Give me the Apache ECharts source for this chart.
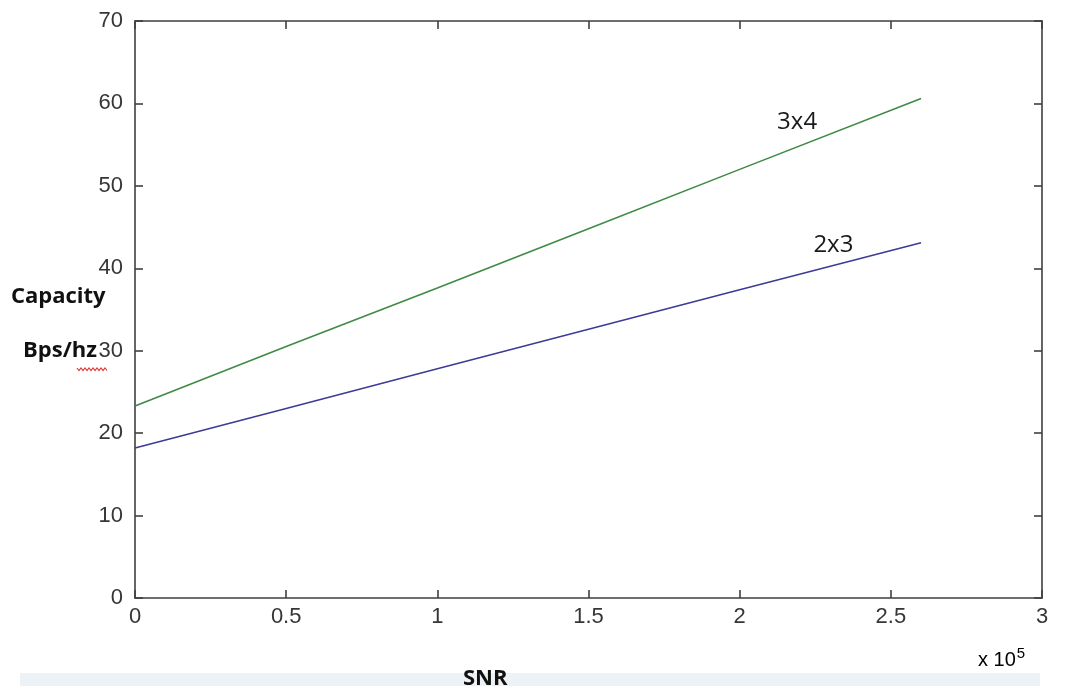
<!DOCTYPE html>
<html>
<head>
<meta charset="utf-8">
<script src="https://cdn.jsdelivr.net/npm/echarts@6/dist/echarts.min.js"></script>
<style>
  html, body { margin: 0; padding: 0; background: #ffffff; }
  #chart { width: 1065px; height: 698px; }
</style>
</head>
<body>
<div id="chart"></div>
<script>
// SNR in units of 10^5
const snr = [0, 0.5, 1, 1.5, 2, 2.6];
// Capacity (Bps/hz) for each antenna configuration
const cap2x3 = [18.2, 23.0, 27.8, 32.6, 37.4, 43.1];
const cap3x4 = [23.3, 30.5, 37.6, 44.8, 52.0, 60.6];
const seriesNames = ['2x3', '3x4'];
// where each series name is written beside its line [snr, capacity]
const nameSpots = [[2.31, 42.8], [2.19, 57.7]];

const axisColor = '#3f3f3f';
const tickFont = { fontFamily: 'Liberation Sans', fontSize: 22, color: '#363636' };

const chart = echarts.init(document.getElementById('chart'), null, { renderer: 'canvas' });

function frameAxis(pos, showLabels, extra) {
  return Object.assign({
    type: 'value',
    position: pos,
    axisLine: { show: true, onZero: false, lineStyle: { color: axisColor, width: 1.6 } },
    axisTick: { show: true, inside: true, length: 8, lineStyle: { color: axisColor, width: 1.6 } },
    axisLabel: Object.assign({ show: showLabels }, tickFont),
    splitLine: { show: false }
  }, extra);
}

function toPairs(xs, ys) { return xs.map((x, i) => [x, ys[i]]); }

function lineSeries(name, values, color) {
  return {
    name: name,
    type: 'line',
    data: toPairs(snr, values),
    showSymbol: false,
    symbol: 'none',
    lineStyle: { color: color, width: 1.6 },
    animation: false
  };
}

chart.setOption({
  animation: false,
  backgroundColor: '#ffffff',
  grid: { left: 135, top: 21, width: 907, height: 577, containLabel: false },
  xAxis: [
    frameAxis('bottom', true, { min: 0, max: 3, interval: 0.5, axisLabel: Object.assign({ show: true, margin: 8 }, tickFont) }),
    frameAxis('top', false, { min: 0, max: 3, interval: 0.5 })
  ],
  yAxis: [
    frameAxis('left', true, { min: 0, max: 70, interval: 10, axisLabel: Object.assign({ show: true, margin: 12 }, tickFont) }),
    frameAxis('right', false, { min: 0, max: 70, interval: 10 })
  ],
  series: [
    lineSeries(seriesNames[0], cap2x3, '#3c3c96'),
    lineSeries(seriesNames[1], cap3x4, '#3f8a45')
  ]
});

// decorations and series names placed through the chart's own scales
const nameTexts = seriesNames.map((name, i) => {
  const p = chart.convertToPixel({ gridIndex: 0 }, nameSpots[i]);
  return {
    type: 'text', x: p[0], y: p[1],
    style: { text: name, font: '24px "Open Sans"', fill: '#1a1a1a', textAlign: 'center', textVerticalAlign: 'middle' }
  };
});

chart.setOption({
  graphic: [
    // faint band across the bottom
    { type: 'rect', shape: { x: 20, y: 673, width: 1020, height: 13 }, style: { fill: '#edf2f7' }, silent: true },
    // axis titles
    { type: 'text', left: 11, top: 286, style: { text: 'Capacity', font: 'bold 22px "Open Sans"', fill: '#111111' } },
    { type: 'text', left: 23, top: 340, style: { text: 'Bps/hz', font: 'bold 22px "Open Sans"', fill: '#111111' } },
    // spell-check squiggle under "hz"
    {
      type: 'polyline',
      shape: { points: [[77,368],[79,370.5],[81,368],[83,370.5],[85,368],[87,370.5],[89,368],[91,370.5],[93,368],[95,370.5],[97,368],[99,370.5],[101,368],[103,370.5],[105,368],[107,370.5]] },
      style: { stroke: '#e03a3a', lineWidth: 1.2, fill: null },
      silent: true
    },
    { type: 'text', left: 463, top: 668, style: { text: 'SNR', font: 'bold 22px "Open Sans"', fill: '#111111' } },
    // exponent of the SNR axis
    {
      type: 'text', left: 978, top: 646,
      style: {
        text: '{b|x 10}{s|5}',
        rich: {
          b: { fontFamily: 'Liberation Sans', fontSize: 20, color: '#444444' },
          s: { fontFamily: 'Liberation Sans', fontSize: 15, color: '#444444', verticalAlign: 'top', padding: [0, 0, 14, 1] }
        }
      }
    }
  ].concat(nameTexts)
});
</script>
</body>
</html>
